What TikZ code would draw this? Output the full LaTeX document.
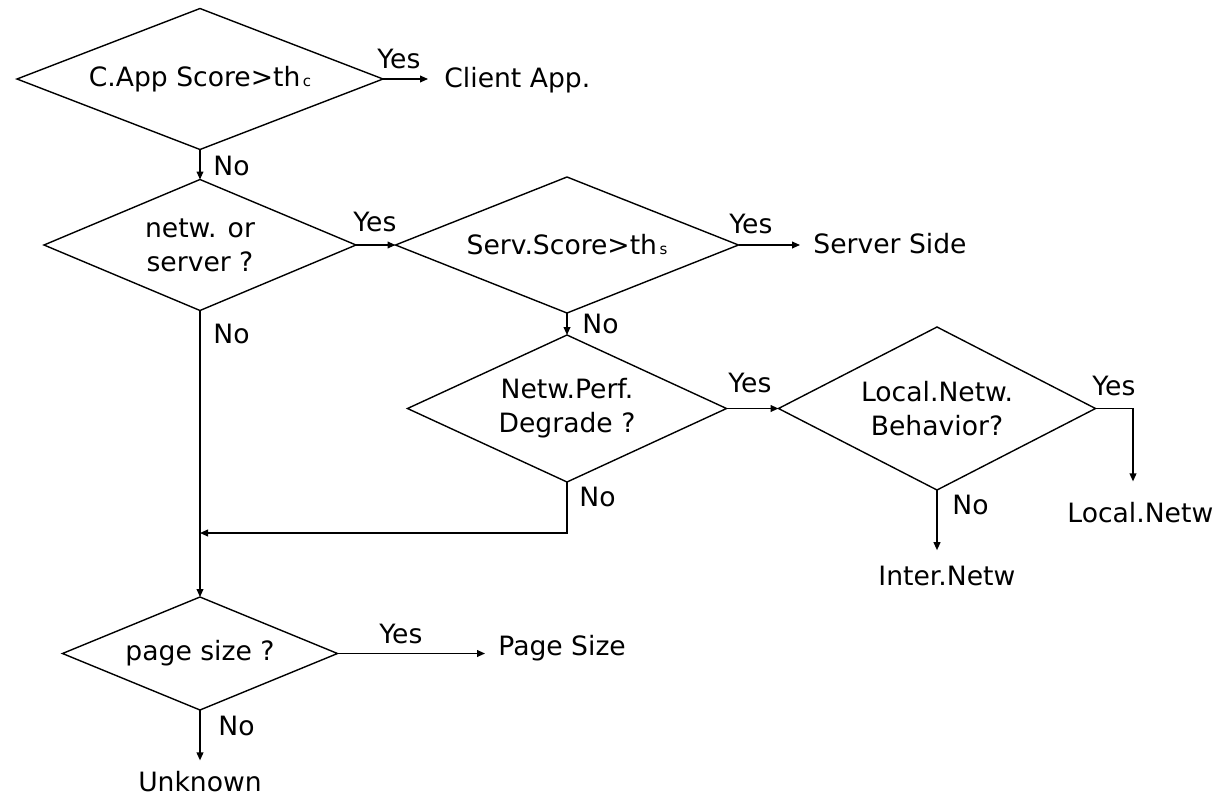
\documentclass[tikz,border=0pt]{standalone}
\usepackage{fontspec}
\setmainfont{DejaVu Sans}
\usetikzlibrary{shapes.geometric,arrows.meta}
\begin{document}
\begin{tikzpicture}[x=0.5pt,y=-0.5pt,
  font=\fontsize{13.3}{17}\selectfont,
  dec/.style={draw, diamond, inner sep=0pt, outer sep=0pt, align=center, line width=0.7pt},
  lbl/.style={inner sep=0pt, anchor=base west},
  arr/.style={-{Triangle[length=4pt,width=3.4pt]}, line width=0.7pt}]
\useasboundingbox (0,0) rectangle (1227,798);
% decisions
\node[dec, aspect=2.596, minimum width=183pt, minimum height=70.5pt] (d1) at (200,79) {C.App Score>th{\fontsize{7.5}{8}\selectfont\,c}};
\node[dec, aspect=2.382, minimum width=156pt, minimum height=65.5pt] (d2) at (200,245) {netw. or\\server ?};
\node[dec, aspect=2.522, minimum width=171.5pt, minimum height=68pt] (d3) at (567,245) {Serv.Score>th{\fontsize{7.5}{8}\selectfont\,s}};
\node[dec, aspect=2.170, minimum width=159.5pt, minimum height=73.5pt] (d4) at (567,408.5) {Netw.Perf.\\Degrade ?};
\node[dec, aspect=1.945, minimum width=158.5pt, minimum height=81.5pt] (d5) at (937,408.5) {Local.Netw.\\Behavior?};
\node[dec, aspect=2.434, minimum width=137.5pt, minimum height=56.5pt] (d6) at (200,653.5) {page size ?};
% terminals
\node[lbl] (ca) at (444,87) {Client App.};
\node[lbl] (ss) at (813,253) {Server Side};
\node[lbl] (lnw) at (1067,522) {Local.Netw};
\node[lbl] (inw) at (878,585) {Inter.Netw};
\node[lbl] (ps) at (498,655) {Page Size};
\node[inner sep=0pt, anchor=base] (unk) at (200,791) {Unknown};
% branch labels
\node[lbl] (y1) at (377,68) {Yes};
\node[lbl] (n1) at (213,175) {No};
\node[lbl] (y2) at (353,231) {Yes};
\node[lbl] (n2) at (213,343) {No};
\node[lbl] (y3) at (729,233) {Yes};
\node[lbl] (n3) at (582,333) {No};
\node[lbl] (y4) at (728,392) {Yes};
\node[lbl] (n4) at (579,506) {No};
\node[lbl] (y5) at (1092,395) {Yes};
\node[lbl] (n5) at (952,514) {No};
\node[lbl] (y6) at (379,643) {Yes};
\node[lbl] (n6) at (218,735) {No};
% connectors
\draw[arr, shorten >=8pt] (d1.east) -- (d1.east -| ca.west);
\draw[arr] (d1.south) -- (d2.north);
\draw[arr] (d2.east) -- (d3.west);
\draw[arr, shorten >=6.5pt] (d3.east) -- (d3.east -| ss.west);
\draw[arr] (d3.south) -- (d4.north);
\draw[arr] (d4.east) -- (d5.west);
\coordinate (c5) at (1133,408.5);
\draw[arr, shorten >=10pt] (d5.east) -- (c5) -- (c5 |- lnw.north);
\draw[arr, shorten >=7.5pt] (d5.south) -- (d5.south |- inw.north);
\coordinate (j) at (200,533);
\draw[arr] (d4.south) |- (j);
\draw[arr] (d2.south) -- (d6.north);
\draw[arr, shorten >=6.5pt] (d6.east) -- (d6.east -| ps.west);
\draw[arr, shorten >=5pt] (d6.south) -- (d6.south |- unk.north);
\end{tikzpicture}
\end{document}
